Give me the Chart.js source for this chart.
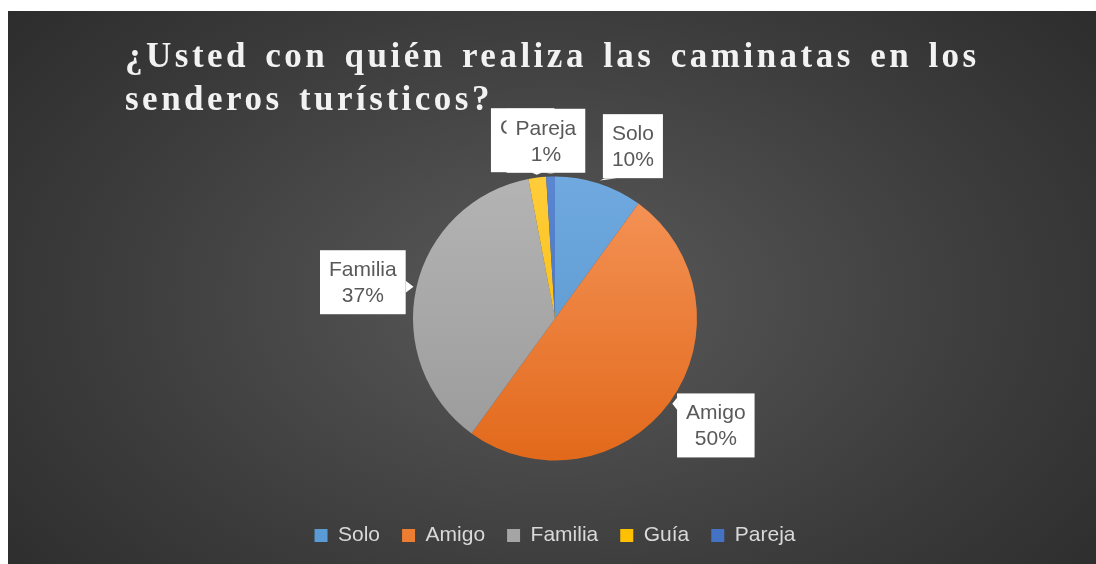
<!DOCTYPE html>
<html>
<head>
<meta charset="utf-8">
<script src="https://cdn.jsdelivr.net/npm/chart.js@4"></script>
<style>
  html, body { margin: 0; padding: 0; background: #ffffff; }
  #wrap {
    position: absolute; left: 8px; top: 11px; width: 1088px; height: 553px;
    background: radial-gradient(ellipse 75% 95% at 50% 52%, #5a5a5a 0%, #3c3c3c 55%, #262626 100%);
  }
  #title {
    position: absolute; left: 117px; top: 23px;
    font-family: "Liberation Serif", "DejaVu Serif", serif;
    font-weight: bold; font-size: 35px; line-height: 43px;
    letter-spacing: 3.5px; word-spacing: 4px;
    color: #f2f2f2; white-space: nowrap; z-index: 2;
  }
  canvas { position: absolute; left: 0; top: 0; }
</style>
</head>
<body>
<div id="wrap">
  <div id="title">¿Usted con quién realiza las caminatas en los<br>senderos turísticos?</div>
  <canvas id="pieChart"></canvas>
</div>
<script>
// ----- DATA -----
const categories = ['Solo', 'Amigo', 'Familia', 'Guía', 'Pareja'];
const percentages = [10, 50, 37, 2, 1];

const baseColors = ['#5b9bd5', '#ed7d31', '#a5a5a5', '#ffc000', '#4472c4'];
const lightColors = ['#6fa9df', '#f5955a', '#b4b4b4', '#ffcd3a', '#5a86d2'];
const darkColors = ['#5592c9', '#e2691b', '#9a9a9a', '#f5b800', '#3e68b4'];

// small nudges for the callouts, the way Excel "best fit" shoves them around
const labelNudge = [[18, 12], [4, -7], [-3, 6], [-8, 14], [-3, 16]];

const labelFont = '21px "Liberation Sans", Arial, sans-serif';
const PIE_R = 142;

function sliceGradient(ctx) {
    const chart = ctx.chart;
    const area = chart.chartArea;
    const i = ctx.dataIndex;
    if (!area) return baseColors[i];
    const cy = (area.top + area.bottom) / 2;
    const g = chart.ctx.createLinearGradient(0, cy - PIE_R, 0, cy + PIE_R);
    g.addColorStop(0, lightColors[i]);
    g.addColorStop(1, darkColors[i]);
    return g;
}

// callout labels drawn after the arcs
const calloutPlugin = {
    id: 'callouts',
    afterDatasetsDraw(chart) {
        const ctx = chart.ctx;
        const meta = chart.getDatasetMeta(0);
        ctx.save();
        ctx.font = labelFont;
        ctx.textAlign = 'center';
        ctx.textBaseline = 'alphabetic';
        meta.data.forEach((arc, i) => {
            const p = arc.getProps(['x', 'y', 'startAngle', 'endAngle', 'outerRadius'], true);
            const mid = (p.startAngle + p.endAngle) / 2;
            const tipX = p.x + Math.cos(mid) * (p.outerRadius + 3);
            const tipY = p.y + Math.sin(mid) * (p.outerRadius + 3);
            const cx = p.x + Math.cos(mid) * p.outerRadius * 1.365 + labelNudge[i][0];
            const cy = p.y + Math.sin(mid) * p.outerRadius * 1.365 + labelNudge[i][1];

            const lines = [categories[i], percentages[i] + '%'];
            const tw = Math.max(...lines.map(l => ctx.measureText(l).width));
            const w = tw + 18, h = 64;
            const x0 = cx - w / 2, y0 = cy - h / 2;

            // pointer triangle from the closest box edge
            const nx = Math.min(Math.max(tipX, x0), x0 + w);
            const ny = Math.min(Math.max(tipY, y0), y0 + h);
            ctx.fillStyle = '#ffffff';
            ctx.beginPath();
            if (ny === y0 || ny === y0 + h) {
                const bx = Math.min(Math.max(nx, x0 + 8), x0 + w - 8);
                ctx.moveTo(bx - 6, ny); ctx.lineTo(bx + 6, ny);
            } else {
                const by = Math.min(Math.max(ny, y0 + 8), y0 + h - 8);
                ctx.moveTo(nx, by - 6); ctx.lineTo(nx, by + 6);
            }
            ctx.lineTo(tipX, tipY);
            ctx.closePath();
            ctx.fill();

            ctx.fillRect(x0, y0, w, h);
            ctx.fillStyle = '#595959';
            ctx.fillText(lines[0], cx, cy - 6);
            ctx.fillText(lines[1], cx, cy + 20);
        });
        ctx.restore();
    }
};

new Chart(document.getElementById('pieChart').getContext('2d'), {
    type: 'pie',
    data: {
        labels: categories,
        datasets: [{
            data: percentages,
            backgroundColor: sliceGradient,
            borderWidth: 0,
            radius: PIE_R
        }]
    },
    options: {
        responsive: true,
        maintainAspectRatio: false,
        animation: false,
        layout: { padding: { top: 123, bottom: 8, left: 6, right: 0 } },
        plugins: {
            tooltip: { enabled: false },
            legend: {
                position: 'bottom',
                labels: {
                    color: '#d9d9d9',
                    font: { family: '"Liberation Sans", Arial, sans-serif', size: 21 },
                    boxWidth: 13,
                    boxHeight: 13,
                    padding: 22,
                    generateLabels(chart) {
                        const items = Chart.overrides.pie.plugins.legend.labels.generateLabels(chart);
                        items.forEach((it, i) => {
                            it.fillStyle = baseColors[i];
                            it.strokeStyle = baseColors[i];
                            it.lineWidth = 0;
                        });
                        return items;
                    }
                }
            }
        }
    },
    plugins: [calloutPlugin]
});
</script>
</body>
</html>
